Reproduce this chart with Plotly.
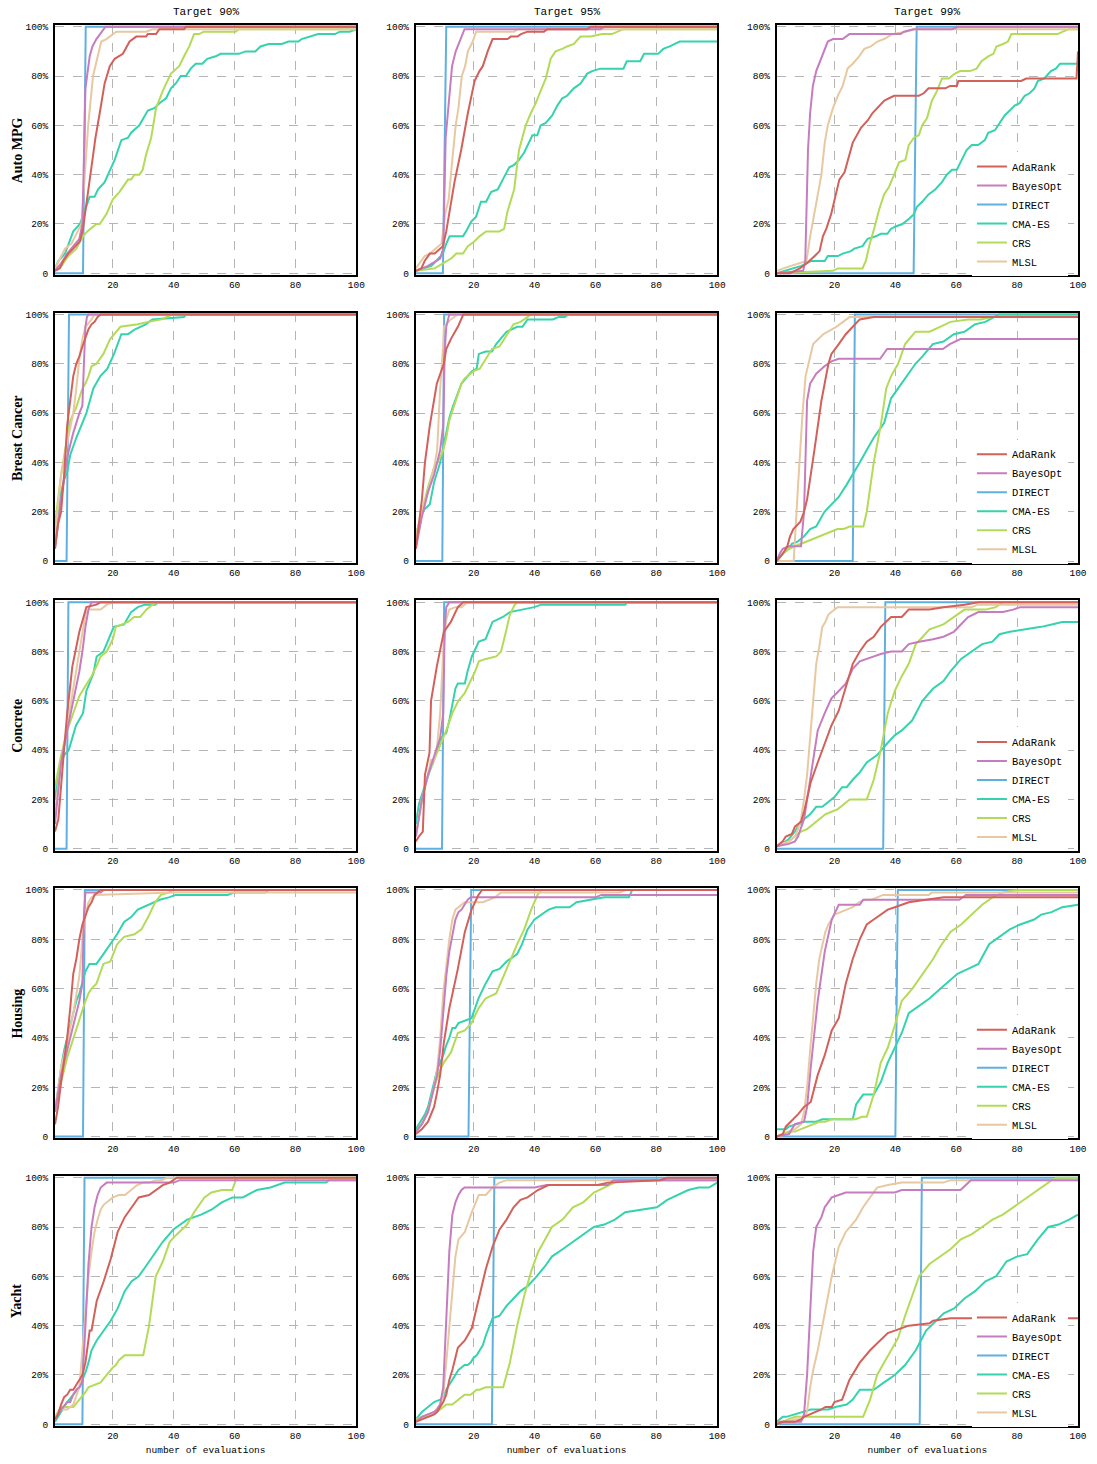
import plotly.graph_objects as go

# ---------------- data (x = number of evaluations, y = % of runs) ----------------
methods = ["AdaRank", "BayesOpt", "DIRECT", "CMA-ES", "CRS", "MLSL"]
datasets = ["Auto MPG", "Breast Cancer", "Concrete", "Housing", "Yacht"]
targets = ["Target 90%", "Target 95%", "Target 99%"]
x_ticks = [20, 40, 60, 80, 100]
y_ticks = [0, 20, 40, 60, 80, 100]
y_tick_labels = ["0", "20%", "40%", "60%", "80%", "100%"]

# ---- Auto MPG ----
auto_90_ada = [(1,1),(2.6,2),(3.7,5),(5.4,8),(7,10),(9.2,13),(10.2,18),(11.3,28),(13,42),(14.3,55),(15.7,65),(17.3,77),(19,84),(20.6,87),(23.3,89),(25.5,94),(27.7,96),(30.9,96),(31.5,97),(34.2,97),(35.3,99),(43.4,99),(44,100),(100,100)]
auto_90_bay = [(1,1),(3,4),(5,8),(7,11),(9,14),(10,20),(11,75),(12.4,88),(13.3,92),(14.6,95),(16.8,99),(17.6,100),(100,100)]
auto_90_dir = [(1,0),(10.2,0),(11.1,100),(100,100)]
auto_90_cma = [(1,2),(2.1,5),(4.3,8),(5.4,12),(7,17),(9.2,20),(11.1,27),(12.4,31),(14,31),(15.1,34),(17.3,37),(19,42),(20.6,46),(22.8,54),(25,55),(26,57),(28.7,60),(31.5,66),(33.6,67),(35.3,69),(37.5,71),(39.1,75),(40.7,77),(42.3,80),(44,80),(45.6,83),(47.2,85),(49.4,85),(51,87),(53.8,88),(55.4,89),(61.4,89),(63.6,90),(66.8,90),(68.5,92),(71.2,93),(75.5,93),(77.7,94),(81,94),(82,95),(84.8,96),(87.5,97),(93,97),(94.6,98),(97.8,98),(100,99)]
auto_90_crs = [(1,1),(3.2,3),(5.4,7),(8,10),(10.2,15),(11.6,17),(14.6,20),(15.7,20),(17.9,24),(20,30),(22.2,33),(25,38),(26,38),(27.1,40),(28.7,40),(29.8,42),(30.9,48),(32.6,55),(34.2,67),(36.4,74),(39.1,81),(41.8,84),(43.4,88),(45.1,92),(46.7,97),(48.3,97),(49.9,98),(60.3,98),(61.4,99),(100,99)]
auto_90_mls = [(1,2),(4.3,10),(6.4,12),(9.7,20),(10.8,40),(11.9,60),(13.5,80),(14.9,88),(16.2,94),(17.9,95),(20,97),(21.1,98),(31,98),(33,99),(100,99)]

auto_95_ada = [(1,1),(2.8,2),(3.9,5),(5.6,8),(7.2,8),(9.9,11),(11,17),(12.1,25),(13.7,37),(15.9,50),(18.1,65),(20.3,78),(21.9,82),(23,84),(24.6,90),(26.2,95),(31.1,95),(32.2,96),(34.4,96),(35.5,97),(37.7,98),(43.1,98),(44.2,99),(57.3,99),(58.4,100),(100,100)]
auto_95_bay = [(1,1),(5,3),(9,6),(10,10),(10.8,55),(11.8,70),(12.9,84),(14.1,90),(15.4,94),(17,99),(61.6,99),(63,100),(100,100)]
auto_95_dir = [(1,0),(9.9,0),(11,100),(100,100)]
auto_95_cma = [(1,1),(6.1,3),(7.7,5),(9.9,8),(11,12),(12.1,15),(16.5,15),(17.5,17),(19.2,21),(20.8,23),(22.4,29),(24.1,29),(25.7,33),(27.9,34),(30,39),(31.7,43),(33.3,44),(34.9,46),(36.6,49),(38.2,53),(39.3,56),(40.9,56),(42,60),(43.7,61),(45.8,64),(47.5,68),(49.1,71),(50.7,72),(52.9,75),(55.1,77),(57.3,81),(58.9,82),(61.6,83),(69.2,83),(70.3,86),(74.7,86),(76,89),(80.6,89),(82.3,91),(84.4,92),(87.7,94),(100,94)]
auto_95_crs = [(1,1),(7.2,2),(9.9,4),(12.6,6),(14.3,8),(16.5,8),(18.1,11),(20.3,13),(21.9,15),(24.1,17),(28.4,17),(30,18),(31.1,25),(33.3,34),(34.9,50),(37.1,60),(38.8,65),(40.4,69),(42,74),(43.7,79),(45.3,87),(46.9,90),(49.1,91),(50.7,92),(52.9,93),(55.1,96),(58.4,96),(62.2,97),(65.4,97),(67.6,98),(69.2,99),(100,99)]
auto_95_mls = [(1,2),(3.9,7),(5.6,8),(9.4,12),(10.8,25),(11.8,30),(12.9,45),(14.1,60),(15,67),(16.1,80),(17.2,84),(18.1,90),(19.7,94),(20.8,98),(33.3,98),(34.4,99),(100,99)]

auto_99_ada = [(1,0),(5.3,0),(8.6,2),(10.8,4),(13.5,7),(15.1,9),(16.2,15),(17.3,18),(18.9,24),(20.5,32),(21.6,38),(23.3,41),(24.9,48),(26,53),(28.7,59),(30.9,62),(32.5,65),(34.1,67),(36.3,70),(37.9,71),(39.6,72),(47.7,72),(49.3,73),(50.9,75),(56.4,75),(58,76),(60.2,76),(60.7,78),(81.3,78),(83,79),(99.5,79),(100,90)]
auto_99_bay = [(1,0),(9.7,1),(10.4,5),(11.3,50),(12,65),(12.9,76),(14,82),(16,88),(17.8,94),(19.5,95),(22.7,95),(24.9,97),(41.7,97),(42.8,98),(46.1,99),(58.6,99),(60.7,100),(100,100)]
auto_99_dir = [(1,0),(46,0),(47,100),(100,100)]
auto_99_cma = [(1,0),(6.4,2),(9.1,3),(10.8,4),(12.4,5),(16.8,5),(17.8,7),(21.1,7),(22.7,8),(25.4,9),(26.5,10),(29.2,11),(30.9,14),(33.6,15),(35.2,16),(37.4,16),(38.5,18),(40.1,19),(42.3,20),(44.4,22),(46.1,24),(47.1,27),(48.8,29),(50.9,32),(53.1,34),(55.3,37),(56.9,40),(58.6,42),(60.2,42),(61.8,46),(63.4,50),(65.1,52),(67.2,52),(69.4,54),(70.5,57),(72.7,58),(74.3,61),(75.9,64),(77.6,66),(79.2,68),(80.8,69),(82.5,72),(84.1,73),(85.7,75),(86.8,78),(88.9,79),(91.1,82),(92.7,83),(94.1,85),(100,85)]
auto_99_crs = [(1,0),(19.5,1),(21.1,2),(29.2,2),(30.3,5),(31.6,12),(33,18),(34.7,26),(36.3,32),(37.9,35),(39.6,40),(41.2,45),(43.3,46),(44.4,52),(46.1,55),(47.7,56),(48.8,60),(50.4,63),(52,70),(53.7,74),(55.3,79),(57.5,79),(59.6,81),(61.3,82),(64.5,82),(66.7,83),(68.3,86),(70.5,88),(72.2,89),(73.2,92),(75.4,93),(77,94),(78.1,97),(93.3,97),(95,98),(97.1,99),(100,99)]
auto_99_mls = [(1,1),(3.2,2),(10.8,5),(12,15),(13.5,25),(14.6,33),(15.7,40),(16.8,53),(17.8,60),(19.5,67),(21.1,72),(22.7,76),(24.3,83),(26,85),(28.1,88),(29.8,91),(31.9,92),(34.1,94),(36.3,95),(39,97),(43.3,98),(46.1,99),(100,99)]

# ---- Breast Cancer ----
bc_90_ada = [(1,5),(2,15),(3,20),(4,35),(5,55),(6,65),(7,75),(8,80),(9,83),(10,87),(11,91),(12,94),(13,96),(14,97),(15,99),(16,100),(100,100)]
bc_90_bay = [(1,5),(3,25),(5,42),(7,52),(9,60),(10,63),(10.5,80),(11,95),(11.5,99),(12,100),(100,100)]
bc_90_dir = [(1,0),(4.8,0),(5.6,100),(100,100)]
bc_90_cma = [(1,10),(2,20),(3,28),(4,33),(5,36),(6,43),(8,50),(10,56),(11.3,60),(13.6,70),(15.9,75),(18.2,78),(20.4,84),(22.8,92),(25,92),(27.3,94),(30.8,96),(33,98),(43.4,99),(44,100),(100,100)]
bc_90_crs = [(1,15),(2,25),(3,35),(5,50),(6,57),(7.9,62),(9,66),(10,70),(11,72),(12,75),(13,79),(14.6,80),(16.9,84),(19.1,90),(22.5,95),(28.2,96),(31.6,97),(36,98),(39.5,100),(100,100)]
bc_90_mls = [(1,10),(3,35),(5,48),(7,60),(8,70),(9,82),(10,90),(11,95),(13,98),(14,100),(100,100)]

bc_95_ada = [(1,5),(2,15),(3,25),(4,40),(5.6,55),(7.9,72),(10.2,80),(11,86),(12.5,90),(14.8,95),(16.6,100),(100,100)]
bc_95_bay = [(1,5),(3,18),(5,28),(7,35),(8,40),(9,45),(10,55),(10.5,85),(11,95),(12,100),(100,100)]
bc_95_dir = [(1,0),(9.7,0),(10.3,100),(100,100)]
bc_95_cma = [(1,10),(2,15),(3,20),(5.6,23),(7,32),(9,40),(10.2,48),(11,52),(12,58),(13,62),(14.8,68),(16,72),(18,75),(19.4,77),(21,78),(21.7,84),(24,85),(26,85),(27.4,88),(30.8,93),(34.3,95),(36,95),(37.7,98),(46,98),(48,99),(50,99),(51,100),(100,100)]
bc_95_crs = [(1,10),(3,20),(5,30),(7,38),(9,42),(10,45),(11,50),(12,57),(13,61),(14,65),(15,68),(16,72),(17,74),(18,75),(20,77),(22,78),(24,82),(26,86),(28.5,87),(30,90),(33.1,96),(35.4,97),(38.9,100),(100,100)]
bc_95_mls = [(1,10),(3,20),(5,28),(7,38),(8,45),(9,70),(10,88),(10.2,95),(12.5,98),(14.8,100),(100,100)]

bc_99_ada = [(1,0),(3,3),(4.5,6),(5.4,10),(6.5,13),(8.8,16),(10,20),(11,25),(13.4,45),(15.7,65),(18,80),(19,84),(21.4,88),(23.7,92),(26,95),(28.3,98),(32.9,99),(100,99)]
bc_99_bay = [(1,0),(2,3),(3,5),(5,6),(9,6),(10,20),(11,65),(12,72),(14,76),(16.7,79),(19,81),(21.4,82),(35,82),(37.3,86),(55.6,86),(57.9,88),(61.4,90),(100,90)]
bc_99_dir = [(1,0),(26,0),(26.7,100),(100,100)]
bc_99_cma = [(1,0),(3,3),(5,5),(6,7),(8,8),(10,10),(12,13),(14,14),(16.7,20),(19,23),(21.4,26),(24,31),(26,35),(28.3,40),(30.6,45),(32.9,50),(36.3,56),(38.6,66),(40.9,70),(44.4,76),(46.6,80),(48.9,83),(52.3,88),(55.8,89),(59.2,92),(62.7,93),(66.1,96),(69.6,97),(72.6,99),(74,100),(100,100)]
bc_99_crs = [(1,0),(3,3),(5,5),(7,6),(9,7),(11,8),(13,9),(15,10),(17,11),(19,12),(21,13),(23,13),(25,14),(29.5,14),(30.6,20),(32.9,40),(35.2,55),(37,70),(38.6,75),(40.9,80),(43.2,88),(46.6,93),(51.2,93),(54.7,95),(58.1,97),(63.9,98),(68,98),(71.9,99),(100,99)]
bc_99_mls = [(1,0),(6.6,0),(8,30),(9.5,60),(10.5,75),(13,88),(16.3,92),(20.6,95),(22.8,97),(25,99),(100,99)]

# ---- Concrete ----
cc_90_ada = [(1,7),(2.1,12),(3.7,36),(5,55),(6.7,74),(9,88),(11.3,98),(14.6,99),(16,100),(100,100)]
cc_90_bay = [(1,10),(3,35),(5,48),(7,60),(9,72),(10,80),(11,90),(12,97),(13,100),(100,100)]
cc_90_dir = [(1,0),(4.8,0),(5.4,100),(100,100)]
cc_90_cma = [(1,20),(2,30),(3,35),(4,38),(5.5,40),(7.9,50),(10.2,55),(11.3,64),(13.6,71),(14.7,78),(16.9,80),(19.1,86),(20.3,90),(23.7,91),(26,96),(28.2,98),(30.5,99),(33.9,99),(35,100),(100,100)]
cc_90_crs = [(1,25),(3,38),(5,48),(7,55),(9,62),(11,66),(13,70),(15,75),(16,78),(18,80),(20,85),(21,90),(23,91),(25,92),(27,94),(29,94),(31,97),(33,99),(35,100),(100,100)]
cc_90_mls = [(1,15),(3,35),(5,50),(7,65),(9,80),(11,95),(12,97),(16,97),(18,99),(20,100),(100,100)]

cc_95_ada = [(1,3),(2,5),(3.3,7),(4,30),(5.5,39),(6,60),(7.9,74),(10.2,88),(12.5,92),(14.8,98),(16.6,100),(100,100)]
cc_95_bay = [(1,5),(3,20),(5,30),(7,38),(9,45),(10,55),(10.5,90),(11,98),(12,100),(100,100)]
cc_95_dir = [(1,0),(9.6,0),(10.3,100),(100,100)]
cc_95_cma = [(1,10),(2,18),(3,22),(4,26),(5,30),(6,33),(7,36),(8,40),(9,44),(10,46),(11,47),(12,52),(13,58),(14,65),(14.8,67),(17.1,67),(18,72),(19.4,78),(21.7,84),(23.9,85),(26.2,92),(29.6,94),(31.9,96),(35.4,97),(39.9,98),(42.2,99),(69.8,99),(70.5,100),(100,100)]
cc_95_crs = [(1,5),(3,20),(5,30),(7,36),(9,42),(11,48),(13,55),(15,60),(17,63),(19,68),(20.5,72),(21.7,76),(24,77),(27.4,78),(29,80),(30.4,87),(31.9,95),(33.5,99),(34.5,100),(100,100)]
cc_95_mls = [(1,5),(3,20),(5,30),(6,36),(7,36),(8,42),(9,55),(10,80),(11,93),(12,97),(14,98),(16,98),(18,100),(100,100)]

cc_99_ada = [(1,1),(3,3),(4,5),(6,6),(7,9),(8,10),(9,11),(10,15),(12.2,27),(14.5,35),(16.8,43),(19,50),(21.4,56),(23.7,65),(26,75),(28.3,80),(30.6,84),(32.9,86),(35.2,90),(38.6,94),(42.1,94),(44.4,97),(51.2,97),(55.8,98),(62.7,99),(67.3,100),(100,100)]
cc_99_bay = [(1,1),(5,2),(7,3),(8,5),(10,12),(12.2,30),(14.5,48),(16.8,55),(19,61),(21.4,64),(23.7,67),(26,73),(28.3,76),(30.6,77),(35.2,79),(38.6,80),(42.1,80),(44.4,83),(47.8,84),(52.4,85),(55.8,86),(59.2,88),(61.6,91),(63.9,94),(67.3,96),(75.3,96),(78.7,97),(81,98),(100,98)]
cc_99_dir = [(1,0),(36,0),(36.7,100),(100,100)]
cc_99_cma = [(1,1),(3,2),(5,4),(7,7),(8,9),(10,12),(12,14),(14,17),(16,17),(18,19),(20,21),(22.5,25),(24,25),(26,28),(28.3,31),(30.6,35),(34,38),(37.5,43),(39.8,46),(42.1,48),(45.5,52),(48.9,60),(52.4,65),(55.8,68),(58.1,72),(61.6,77),(65,80),(68.5,83),(71.9,84),(74.2,87),(77.6,88),(83.3,89),(87.9,90),(91.4,91),(94.8,92),(100,92)]
cc_99_crs = [(1,1),(5,3),(7,5),(9,7),(11,8),(13,10),(15,12),(17,14),(19,15),(21,16),(23,18),(25,20),(30.6,20),(32.9,28),(35.2,40),(37.5,55),(39.8,64),(42.1,70),(44.4,75),(46.7,83),(49,86),(51.2,89),(55.8,91),(59.2,94),(62.7,97),(69.6,97),(73,98),(75.3,100),(100,100)]
cc_99_mls = [(1,1),(3,2),(5,3),(7,5),(8,8),(9,12),(10,20),(11,30),(12,45),(13,62),(14,75),(15,82),(16,90),(17,92),(18,95),(19,96),(20,97),(21,98),(65,98),(67,99),(100,99)]

# ---- Housing ----
ho_90_ada = [(1,5),(2,12),(3,22),(4,30),(5,40),(6,52),(7,66),(8,72),(9,80),(10,86),(11,90),(12,93),(13,95),(14,98),(15,99),(16,100),(100,100)]
ho_90_bay = [(1,10),(3,25),(5,35),(7,45),(9,55),(10,62),(10.5,90),(11,99),(16,99),(17,100),(100,100)]
ho_90_dir = [(1,0),(10.2,0),(10.8,100),(100,100)]
ho_90_cma = [(1,10),(2,20),(3,28),(4,35),(5,40),(6,45),(7,50),(8,55),(9,58),(10,63),(11,67),(12.3,70),(14.6,70),(16.9,74),(19.2,78),(21.4,82),(23.7,87),(26,89),(28.2,92),(31.6,94),(35.4,96),(38.4,97),(40.6,98),(57.7,98),(60,99),(70.2,99),(71,100),(100,100)]
ho_90_crs = [(1,10),(3,22),(5,32),(7,40),(9,48),(10,52),(11,55),(12,58),(13,60),(14.6,62),(16.9,70),(19.2,71),(21.4,78),(23.7,81),(27.1,82),(29.4,84),(31.6,89),(33.9,95),(35.8,98),(38.5,99),(39.5,100),(100,100)]
ho_90_mls = [(1,10),(3,28),(5,38),(7,50),(9,65),(10,80),(11,90),(12,95),(13,97),(14,98),(40,99),(100,99)]

ho_95_ada = [(1,1),(3,3),(5,6),(7,12),(8,18),(9,25),(10.2,38),(12,52),(14.8,68),(17.1,83),(19.3,92),(21.6,98),(22.8,100),(100,100)]
ho_95_bay = [(1,2),(3,5),(5,10),(7,20),(8,25),(9,35),(10,50),(11,65),(12,75),(13,82),(14,88),(15,91),(16,92),(17,94),(18,96),(19,97),(60,97),(62,98),(100,98)]
ho_95_dir = [(1,0),(18.3,0),(19.2,100),(100,100)]
ho_95_cma = [(1,3),(2,5),(3,7),(4,9),(5,12),(6,17),(7,22),(8,27),(9,30),(10,33),(11,37),(12,40),(13,44),(14,44),(15,46),(17,47),(19.3,48),(21.6,56),(23.9,62),(26.2,67),(28.5,68),(30.8,71),(34.3,74),(35.9,78),(37.7,84),(40,88),(42.3,90),(44.6,92),(46.9,93),(51.5,93),(53.8,95),(58.3,96),(62.9,97),(71,97),(72.1,100),(100,100)]
ho_95_crs = [(1,2),(3,5),(5,10),(7,20),(9,27),(10.2,30),(12.5,34),(14.8,42),(17.1,43),(19.3,46),(21.6,52),(23.9,56),(27.4,58),(30.8,68),(34.3,78),(36.6,84),(38.9,92),(41,98),(42.3,100),(100,100)]
ho_95_mls = [(1,2),(3,5),(5,10),(7,20),(8,27),(9,40),(10,58),(11,70),(12,80),(13,88),(14,92),(15,93),(17,95),(23,95),(25,96),(27,97),(29,99),(68,99),(70,100),(100,100)]

ho_99_ada = [(1,0),(3,1),(4,4),(6.5,7),(8,9),(10,12),(12.2,14),(14.5,25),(16.8,33),(19.1,43),(21.4,48),(23.7,62),(26,72),(28.3,80),(30.6,86),(32.9,88),(35.2,90),(37.5,92),(39.8,93),(44.4,95),(50.1,96),(55.9,97),(100,97)]
ho_99_bay = [(1,0),(5,1),(6,3),(7,5),(10,6),(11,12),(12.2,28),(14.5,55),(16.8,75),(19.1,88),(21.4,94),(28.3,94),(29.4,96),(61,96),(63.2,98),(100,98)]
ho_99_dir = [(1,0),(40,0),(40.8,100),(100,100)]
ho_99_cma = [(1,3),(4,3),(5,4),(7.7,5),(10,6),(14,6),(16,7),(20.3,7),(26,7),(27.1,13),(29.4,17),(32.9,17),(35.2,22),(37.5,30),(39.8,36),(42.1,42),(44.4,50),(46.7,52),(51.2,56),(55.8,61),(60.4,66),(63.9,68),(67.3,70),(70.8,78),(74.2,81),(77.6,84),(81,86),(85.6,88),(87.9,90),(91.3,91),(94.8,93),(100,94)]
ho_99_crs = [(1,0),(3,1),(5,2),(7,2),(9,3),(11,4),(13,5),(15,6),(17,6),(19,7),(27,7),(29,8),(30.6,8),(32.9,17),(35.2,30),(37.5,36),(39.8,45),(42.1,55),(45.6,60),(49,66),(52.4,72),(54.7,77),(58.1,83),(61.6,86),(65,90),(68.5,94),(71.9,97),(75.3,99),(79.9,100),(100,100)]
ho_99_mls = [(1,0),(5,1),(7,3),(9,5),(10,10),(11,20),(12,35),(13,50),(14,62),(15,72),(16,78),(17,83),(18,86),(19,88),(20,90),(22,91),(24,92),(26,93),(28,95),(30,96),(32,96),(34,97),(36,98),(51,98),(52,99),(100,99)]

# ---- Yacht ----
ya_90_ada = [(1,2),(2,4),(3,8),(4,11),(5,12),(6,14),(7,14),(8,16),(9,18),(10,20),(11,25),(12.4,38),(13,38),(14.7,50),(17,58),(19.3,67),(21.6,78),(23.9,84),(26.2,88),(28.5,92),(31.9,93),(34.1,95),(36.4,97),(38.7,98),(41,100),(100,100)]
ya_90_bay = [(1,2),(3,6),(5,9),(6,9),(7,12),(8,14),(9,15),(10,17),(11,40),(12,65),(13,80),(14,88),(15,93),(16,96),(17,97),(18,98),(40,98),(42,99),(100,99)]
ya_90_dir = [(1,0),(10,0),(10.7,100),(100,100)]
ya_90_cma = [(1,1),(3,5),(5,9),(7,12),(9,15),(10,18),(11,21),(12,25),(13,30),(14.7,34),(17,38),(19.3,42),(21.6,47),(23.9,54),(26.2,58),(28.5,60),(30.8,64),(33,68),(36.4,74),(39.9,79),(44.4,83),(49,85),(52.4,87),(55.8,90),(59.3,92),(62.7,92),(67.3,95),(71.8,96),(76.4,98),(90.1,98),(91,99),(100,99)]
ya_90_crs = [(1,3),(3,7),(5,7),(7,7),(9,10),(11,13),(12,15),(14,16),(16,17),(18,20),(20,23),(21,24),(22,26),(23.9,28),(30,28),(31.9,40),(34.1,60),(36.4,66),(38.7,74),(41,77),(44.4,81),(46.7,86),(50.1,92),(52.4,94),(55.8,95),(59.2,95),(60.4,99),(61.5,100),(100,100)]
ya_90_mls = [(1,3),(3,6),(5,6),(7,8),(9,15),(10,30),(11,45),(12,60),(13,70),(14,78),(15,83),(16,87),(17,89),(18,90),(20,92),(22,93),(24,93),(26,95),(28,97),(30,98),(32,98),(34,99),(36,99),(38,100),(100,100)]

ya_95_ada = [(1,1),(3,2),(5,3),(7,4),(8,5),(9,7),(10,9),(11,12),(12,18),(13,22),(14.8,31),(17.1,34),(19.4,39),(21.7,51),(24,63),(26.2,72),(28.5,79),(30.8,83),(33.1,88),(35.4,91),(37.7,92),(41.1,95),(44.6,97),(60.7,97),(64.1,98),(81.3,99),(83.6,100),(100,100)]
ya_95_bay = [(1,1),(3,3),(5,4),(7,5),(8,6),(9,8),(10,15),(11,40),(12,70),(13,85),(14,90),(15,93),(16,95),(17,96),(40,96),(44,97),(64,97),(66,99),(100,99)]
ya_95_dir = [(1,0),(26,0),(26.8,100),(100,100)]
ya_95_cma = [(1,2),(3,5),(5,7),(7,9),(9,10),(10,11),(11,14),(12,16),(13,18),(14,20),(15,22),(16,23),(17,24),(18,24),(19,25),(20,27),(21,28),(22,30),(23,32),(24,36),(26.2,43),(28.5,44),(30.8,48),(33.1,51),(35.4,54),(37.7,56),(40,59),(43.4,64),(45.7,68),(49.2,71),(52.6,74),(56,77),(59.5,80),(62.9,81),(66.4,83),(69.8,86),(74.4,87),(80.2,88),(83.6,91),(87,93),(90.5,95),(93.9,96),(97.3,96),(100,98)]
ya_95_crs = [(1,2),(3,3),(5,3),(7,4),(9,6),(11,8),(13,8),(15,10),(17,12),(19,12),(20,13),(21,14),(22,14),(24,15),(29.7,15),(31.9,25),(34.3,40),(36.6,52),(38.9,62),(41.2,70),(43.5,75),(45.7,80),(49.2,83),(52.6,88),(56,90),(59.5,94),(62.9,96),(66.4,98),(68,99),(100,99)]
ya_95_mls = [(1,1),(3,3),(5,4),(7,5),(9,8),(10,12),(11,25),(12,40),(13,55),(14,68),(15,75),(17.1,78),(19.4,86),(21.7,93),(24,93),(26.2,96),(28.5,98),(30.8,99),(100,99)]

ya_99_ada = [(1,0),(3,1),(7,1),(9,2),(10,3),(12,4),(14,5),(15.7,6),(17,7),(19.1,7),(20,9),(22.5,10),(24.9,18),(28.3,25),(31.7,30),(35.2,34),(37.5,37),(39.8,38),(44.4,40),(51.3,41),(52.4,42),(58.1,43),(100,43)]
ya_99_bay = [(1,1),(9,1),(10,4),(11,20),(12,45),(13,70),(14,80),(15.7,84),(16.8,88),(19.1,92),(21.4,93),(23.7,94),(39.8,94),(42.1,95),(61.4,95),(64.8,99),(100,99)]
ya_99_dir = [(1,0),(48,0),(48.7,100),(100,100)]
ya_99_cma = [(1,1),(3,3),(4.2,3),(7,4),(10,5),(12.2,6),(18,6),(20.3,7),(24,8),(26,10),(28.3,14),(32.9,14),(36.3,17),(39.8,20),(43.2,24),(46.7,30),(50.1,38),(53.6,42),(55.9,45),(59.3,47),(62.7,51),(66.2,54),(69.6,58),(73.1,60),(76.5,66),(79.9,68),(83.3,69),(86.8,75),(90.2,80),(93.6,81),(97.1,83),(100,85)]
ya_99_crs = [(1,0),(3,1),(5,2),(7,3),(29.4,3),(31.7,10),(34,20),(36.3,25),(38.6,30),(40.9,35),(43.2,44),(45.5,52),(47.8,60),(51.2,65),(54.7,68),(58.1,71),(61.5,75),(65,77),(68.5,80),(71.9,83),(75.3,85),(78.8,88),(82.2,91),(85.6,94),(89.1,97),(91.4,99),(93,100),(100,100)]
ya_99_mls = [(1,1),(5,1),(7,2),(9,2),(10,3),(11,5),(12,15),(13,22),(14.5,30),(16.8,45),(19.1,60),(21.4,72),(23.7,78),(27.1,83),(29.4,88),(31.7,92),(34,96),(37.5,97),(42.1,98),(55.8,98),(58.1,99),(100,99)]

panels = [
    [[auto_90_ada, auto_90_bay, auto_90_dir, auto_90_cma, auto_90_crs, auto_90_mls],
     [auto_95_ada, auto_95_bay, auto_95_dir, auto_95_cma, auto_95_crs, auto_95_mls],
     [auto_99_ada, auto_99_bay, auto_99_dir, auto_99_cma, auto_99_crs, auto_99_mls]],
    [[bc_90_ada, bc_90_bay, bc_90_dir, bc_90_cma, bc_90_crs, bc_90_mls],
     [bc_95_ada, bc_95_bay, bc_95_dir, bc_95_cma, bc_95_crs, bc_95_mls],
     [bc_99_ada, bc_99_bay, bc_99_dir, bc_99_cma, bc_99_crs, bc_99_mls]],
    [[cc_90_ada, cc_90_bay, cc_90_dir, cc_90_cma, cc_90_crs, cc_90_mls],
     [cc_95_ada, cc_95_bay, cc_95_dir, cc_95_cma, cc_95_crs, cc_95_mls],
     [cc_99_ada, cc_99_bay, cc_99_dir, cc_99_cma, cc_99_crs, cc_99_mls]],
    [[ho_90_ada, ho_90_bay, ho_90_dir, ho_90_cma, ho_90_crs, ho_90_mls],
     [ho_95_ada, ho_95_bay, ho_95_dir, ho_95_cma, ho_95_crs, ho_95_mls],
     [ho_99_ada, ho_99_bay, ho_99_dir, ho_99_cma, ho_99_crs, ho_99_mls]],
    [[ya_90_ada, ya_90_bay, ya_90_dir, ya_90_cma, ya_90_crs, ya_90_mls],
     [ya_95_ada, ya_95_bay, ya_95_dir, ya_95_cma, ya_95_crs, ya_95_mls],
     [ya_99_ada, ya_99_bay, ya_99_dir, ya_99_cma, ya_99_crs, ya_99_mls]],
]

# ---------------- style ----------------
colors = {"AdaRank": "#d3605a", "BayesOpt": "#c77cbf", "DIRECT": "#5eb0e0",
          "CMA-ES": "#34d3ad", "CRS": "#b3db57", "MLSL": "#e8c8a0"}
draw_order = ["DIRECT", "CMA-ES", "CRS", "MLSL", "BayesOpt", "AdaRank"]
MONO = "Liberation Mono"

W, H = 1097, 1464
col_left_px = [55, 419, 783]
col_w_px = 304
row_top_px = [25, 315, 605, 895, 1185]
row_h_px = 252
ML = col_left_px[0]
MT = row_top_px[0]
MR = W - (col_left_px[2] + col_w_px)
MB = H - (row_top_px[4] + row_h_px)
PW, PH = W - ML - MR, H - MT - MB

def clamp(v):
    return max(0.0, min(1.0, v))

def px_to_paper_x(px):
    return (px - ML) / PW

def px_to_paper_y(py):
    return 1 - (py - MT) / PH

def xdom(c):
    return [clamp(px_to_paper_x(col_left_px[c])), clamp(px_to_paper_x(col_left_px[c] + col_w_px))]

def ydom(r):
    return [clamp(px_to_paper_y(row_top_px[r] + row_h_px)), clamp(px_to_paper_y(row_top_px[r]))]

fig = go.Figure()
layout = {}
for r in range(5):
    for c in range(3):
        k = r * 3 + c + 1
        xa = "x" if k == 1 else f"x{k}"
        ya = "y" if k == 1 else f"y{k}"
        leg = "legend" if r == 0 else f"legend{r+1}"
        for m in draw_order:
            i = methods.index(m)
            pts = panels[r][c][i]
            fig.add_trace(go.Scatter(
                x=[p[0] for p in pts], y=[p[1] for p in pts],
                mode="lines", name=m, line=dict(color=colors[m], width=2),
                xaxis=xa, yaxis=ya, legend=leg, legendrank=i + 1,
                showlegend=(c == 2), hoverinfo="skip"))
        axcommon = dict(showline=True, linecolor="black", linewidth=1.7, mirror=True,
                        showgrid=True, gridcolor="#b5b5b5", griddash="dash", gridwidth=0.9,
                        zeroline=False, ticks="", ticklabeloverflow="allow",
                        tickfont=dict(family=MONO, size=9.5, color="black"))
        layout["xaxis" if k == 1 else f"xaxis{k}"] = dict(
            domain=xdom(c), anchor=ya, range=[1, 100], tickvals=x_ticks,
            ticklabelstandoff=0,
            title=dict(text="number of evaluations" if r == 4 else "",
                       font=dict(family=MONO, size=9.5, color="black"), standoff=5),
            **axcommon)
        layout["yaxis" if k == 1 else f"yaxis{k}"] = dict(
            domain=ydom(r), anchor=xa, range=[-0.7, 100.7], tickvals=y_ticks,
            ticktext=y_tick_labels, ticklabelstandoff=3, **axcommon)

for r in range(5):
    leg = "legend" if r == 0 else f"legend{r+1}"
    center = row_top_px[r] + row_h_px - 61.5
    layout[leg] = dict(x=px_to_paper_x(980), xanchor="left",
                       y=px_to_paper_y(center), yanchor="middle",
                       bgcolor="white", borderwidth=0,
                       font=dict(family=MONO, size=10.5, color="black"),
                       itemwidth=30, traceorder="normal", tracegroupgap=0)

annotations = []
for c in range(3):
    dx = xdom(c)
    annotations.append(dict(text=targets[c], xref="paper", yref="paper",
                            x=(dx[0] + dx[1]) / 2, y=px_to_paper_y(12), xanchor="center", yanchor="middle",
                            showarrow=False, font=dict(family=MONO, size=11, color="black")))
for r in range(5):
    d = ydom(r)
    annotations.append(dict(text=datasets[r], xref="paper", yref="paper",
                            x=px_to_paper_x(17), y=(d[0] + d[1]) / 2, xanchor="center", yanchor="middle",
                            textangle=-90, showarrow=False,
                            font=dict(family="Liberation Serif", size=14, color="black", weight="bold")))

fig.update_layout(width=W, height=H, margin=dict(l=ML, r=MR, t=MT, b=MB),
                  paper_bgcolor="white", plot_bgcolor="white", hovermode=False,
                  annotations=annotations, **layout)
# the figure fills the whole 1097x1464 window: remove the page's default body margin
fig.write_html("out.html", config={"displayModeBar": False},
               post_script="document.body.style.margin='0';")
